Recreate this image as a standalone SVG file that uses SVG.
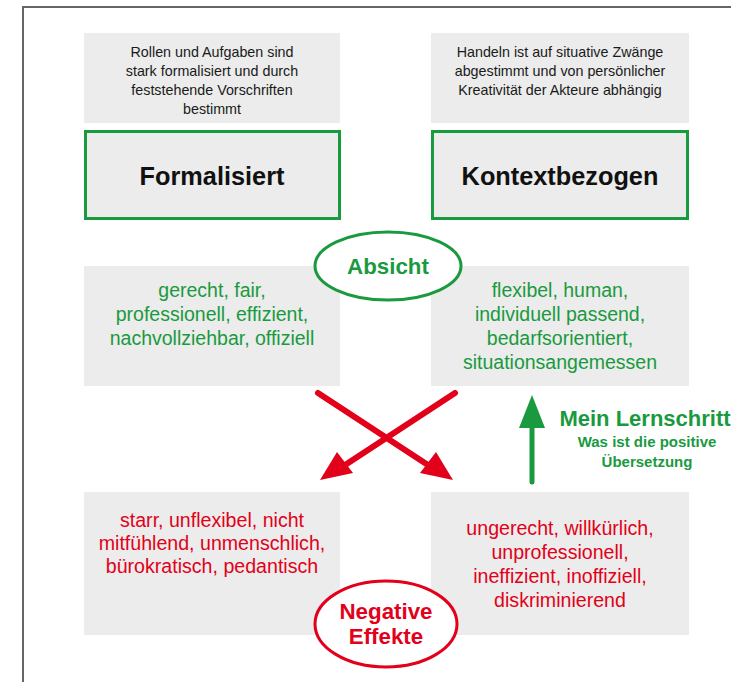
<svg xmlns="http://www.w3.org/2000/svg" width="731" height="682" viewBox="0 0 731 682">
<style>
.box{fill:#ebeceb}
.hbox{fill:#ebeceb;stroke:#1a9a3e;stroke-width:3}
.t{font-family:"Liberation Sans",Arial,sans-serif;text-anchor:middle}
.small{font-size:14.3px;fill:#1a1a1a}
.title{font-size:25.3px;font-weight:bold;fill:#111}
.g{font-size:19.5px;fill:#1a9a3e}
.r{font-size:19.6px;fill:#e2001a}
.lbl{font-weight:bold;font-size:22.3px}
</style>
<rect width="731" height="682" fill="#fff"/>
<path d="M23,682 V7 H731" fill="none" stroke="#666" stroke-width="2"/>

<g id="desc-formal">
<rect class="box" x="84" y="33" width="256" height="90"/>
<text class="t small" x="212" y="57">Rollen und Aufgaben sind</text>
<text class="t small" x="212" y="76">stark formalisiert und durch</text>
<text class="t small" x="212" y="95">feststehende Vorschriften</text>
<text class="t small" x="212" y="114">bestimmt</text>
</g>
<g id="desc-kontext">
<rect class="box" x="431" y="33" width="258" height="90"/>
<text class="t small" x="560" y="57">Handeln ist auf situative Zwänge</text>
<text class="t small" x="560" y="76">abgestimmt und von persönlicher</text>
<text class="t small" x="560" y="95">Kreativität der Akteure abhängig</text>
</g>
<g id="formalisiert">
<rect class="hbox" x="85.5" y="131.5" width="254" height="87"/>
<text class="t title" x="212" y="185">Formalisiert</text>
</g>
<g id="kontextbezogen">
<rect class="hbox" x="432.5" y="131.5" width="255" height="87"/>
<text class="t title" x="560" y="185">Kontextbezogen</text>
</g>
<g id="absicht-formal">
<rect class="box" x="84" y="266" width="256" height="120"/>
<text class="t g" x="212" y="297">gerecht, fair,</text>
<text class="t g" x="212" y="321">professionell, effizient,</text>
<text class="t g" x="212" y="345">nachvollziehbar, offiziell</text>
</g>
<g id="absicht-kontext">
<rect class="box" x="431" y="266" width="258" height="120"/>
<text class="t g" x="560" y="297">flexibel, human,</text>
<text class="t g" x="560" y="321">individuell passend,</text>
<text class="t g" x="560" y="345">bedarfsorientiert,</text>
<text class="t g" x="560" y="369">situationsangemessen</text>
</g>
<g id="absicht">
<ellipse cx="388" cy="266" rx="73" ry="34" fill="#fff" stroke="#1a9a3e" stroke-width="3"/>
<text class="t lbl" x="388" y="274" fill="#1a9a3e">Absicht</text>
</g>
<g id="neg-formal">
<rect class="box" x="84" y="492" width="256" height="143"/>
<text class="t r" x="212" y="527">starr, unflexibel, nicht</text>
<text class="t r" x="212" y="550">mitfühlend, unmenschlich,</text>
<text class="t r" x="212" y="573">bürokratisch, pedantisch</text>
</g>
<g id="neg-kontext">
<rect class="box" x="431" y="492" width="258" height="143"/>
<text class="t r" x="560" y="535">ungerecht, willkürlich,</text>
<text class="t r" x="560" y="559">unprofessionell,</text>
<text class="t r" x="560" y="583">ineffizient, inoffiziell,</text>
<text class="t r" x="560" y="607">diskriminierend</text>
</g>
<g id="negative-effekte">
<ellipse cx="386" cy="624" rx="71" ry="43" fill="#fff" stroke="#e2001a" stroke-width="3"/>
<text class="t lbl" x="386" y="619" fill="#e2001a">Negative</text>
<text class="t lbl" x="386" y="644" fill="#e2001a">Effekte</text>
</g>
<g id="lernschritt">
<text class="t" x="645" y="426" font-size="22" font-weight="bold" fill="#1a9a3e">Mein Lernschritt</text>
<text class="t" x="647" y="447" font-size="15" font-weight="bold" fill="#1a9a3e">Was ist die positive</text>
<text class="t" x="647" y="467" font-size="15" font-weight="bold" fill="#1a9a3e">Übersetzung</text>
</g>
<g id="connectors">
<path d="M318,393 L431,467" stroke="#e2001a" stroke-width="6" stroke-linecap="round" fill="none"/>
<polygon points="453,480 420,473 436,452" fill="#e2001a"/>
<path d="M455,393 L342,467" stroke="#e2001a" stroke-width="6" stroke-linecap="round" fill="none"/>
<polygon points="320,480 337,452 353,473" fill="#e2001a"/>
<path d="M532,482 V420" stroke="#1a9a3e" stroke-width="5" stroke-linecap="round" fill="none"/>
<polygon points="532,395 545,428 519,428" fill="#1a9a3e"/>
</g>
</svg>
